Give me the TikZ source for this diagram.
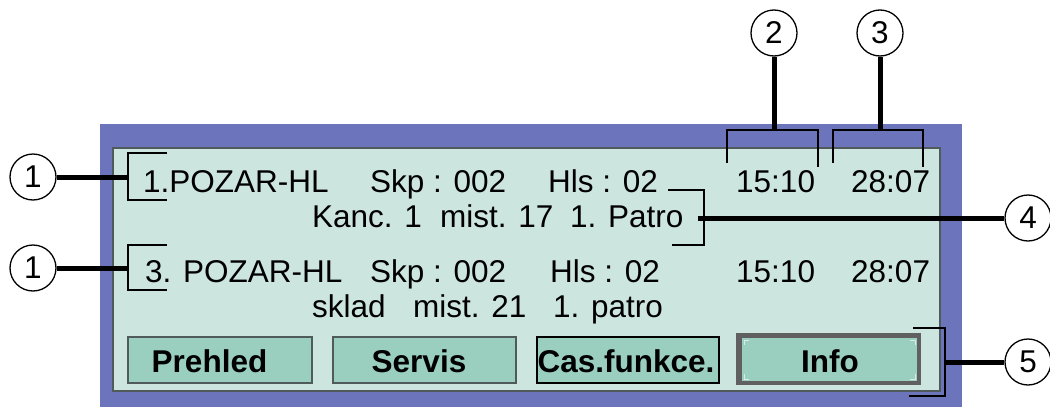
\documentclass[tikz,border=0pt]{standalone}
\usepackage{fontspec}
\setmainfont{Liberation Sans}
\definecolor{frameblue}{RGB}{108,117,187}
\definecolor{panel}{RGB}{204,229,223}
\definecolor{btn}{RGB}{154,207,192}
\definecolor{panelline}{RGB}{80,90,90}
\definecolor{infogray}{RGB}{96,96,96}
\begin{document}
\begin{tikzpicture}[x=1pt,y=-1pt,
  txt/.style={anchor=base west, inner sep=0pt, font=\fontsize{31.5}{36}\selectfont},
  btntxt/.style={anchor=base, inner sep=0pt, font=\fontsize{31.5}{36}\selectfont\bfseries},
  btnbox/.style={draw=panelline, line width=1.2pt, fill=btn},
  callout/.style={circle, draw=black, line width=1.3pt, fill=white, minimum size=46pt, inner sep=0pt, font=\fontsize{31.5}{36}\selectfont},
  brk/.style={draw=black, line width=2pt},
  lead/.style={draw=black, line width=5pt},
  tick/.style={draw=white!60!btn, line width=0.8pt}]
\useasboundingbox (0,0) rectangle (1050,407);
% frame
\fill[frameblue] (100,124) rectangle (962,407);
\filldraw[fill=panel, draw=panelline, line width=1.2pt] (113,148) rectangle (940,391);
% row texts
\node[txt] (r1a) at (143,192) {1.POZAR-HL};
\node[txt] (r1b) at (370,192) {Skp : 002};
\node[txt] (r1c) at (548,192) {Hls : 02};
\node[txt] (r1d) at (736,192) {15:10};
\node[txt] (r1e) at (851,192) {28:07};
\node[txt] (r2a) at (312,227) {Kanc. 1};
\node[txt] (r2b) at (440,227) {mist. 17};
\node[txt] (r2c) at (570,227) {1. Patro};
\node[txt] (r3a) at (145,282) {3. POZAR-HL};
\node[txt] (r3b) at (370,282) {Skp : 002};
\node[txt] (r3c) at (550,282) {Hls : 02};
\node[txt] (r3d) at (736,282) {15:10};
\node[txt] (r3e) at (851,282) {28:07};
\node[txt] (r4a) at (312,317) {sklad};
\node[txt] (r4b) at (413,317) {mist. 21};
\node[txt] (r4c) at (553,317) {1. patro};
% buttons
\path[btnbox] (128,337) rectangle (312,383);
\node[btntxt] (bp) at (209.5,372) {Prehled};
\path[btnbox] (333,337) rectangle (516,383);
\node[btntxt] (bs) at (419,372) {Servis};
\path[btnbox, draw=black] (537,337) rectangle (719,383);
\node[btntxt] (bc) at (626,372) {Cas.funkce.};
\fill[infogray] (736,333) rectangle (921,385);
\fill[btn] (742,338) rectangle (917,381);
\draw[tick] (744,345) -- (744,340) -- (749,340);
\draw[tick] (910,340) -- (915,340) -- (915,345);
\draw[tick] (744,374) -- (744,379) -- (749,379);
\draw[tick] (910,379) -- (915,379) -- (915,374);
\node[btntxt] (bi) at (830,372) {Info};
% callouts
\node[callout] (c1a) at (33,177) {1};
\node[callout] (c1b) at (33,268) {1};
\node[callout] (c2) at (774,33) {2};
\node[callout] (c3) at (880,33) {3};
\node[callout] (c4) at (1028,218) {4};
\node[callout] (c5) at (1028,362) {5};
% brackets
\draw[brk] (167,153) -- (128,153) -- (128,200) -- (167,200);
\draw[brk] (167,245) -- (128,245) -- (128,290) -- (167,290);
\draw[brk] (727,163) -- (727,130) -- (818,130) -- (818,167);
\draw[brk] (833,163) -- (833,130) -- (923,130) -- (923,167);
\draw[brk] (668,190) -- (704,190) -- (704,245) -- (672,245);
\draw[brk] (913,328) -- (945,328) -- (945,396) -- (909,396);
% leaders
\coordinate (k1a) at (128,177);
\coordinate (k1b) at (128,268);
\coordinate (k2) at (774,130);
\coordinate (k3) at (880,130);
\coordinate (k4) at (698,218);
\coordinate (k5) at (945,362);
\draw[lead] (c1a.east) -- (k1a);
\draw[lead] (c1b.east) -- (k1b);
\draw[lead] (c2.south) -- (k2);
\draw[lead] (c3.south) -- (k3);
\draw[lead] (c4.west) -- (k4);
\draw[lead] (c5.west) -- (k5);
\end{tikzpicture}
\end{document}
